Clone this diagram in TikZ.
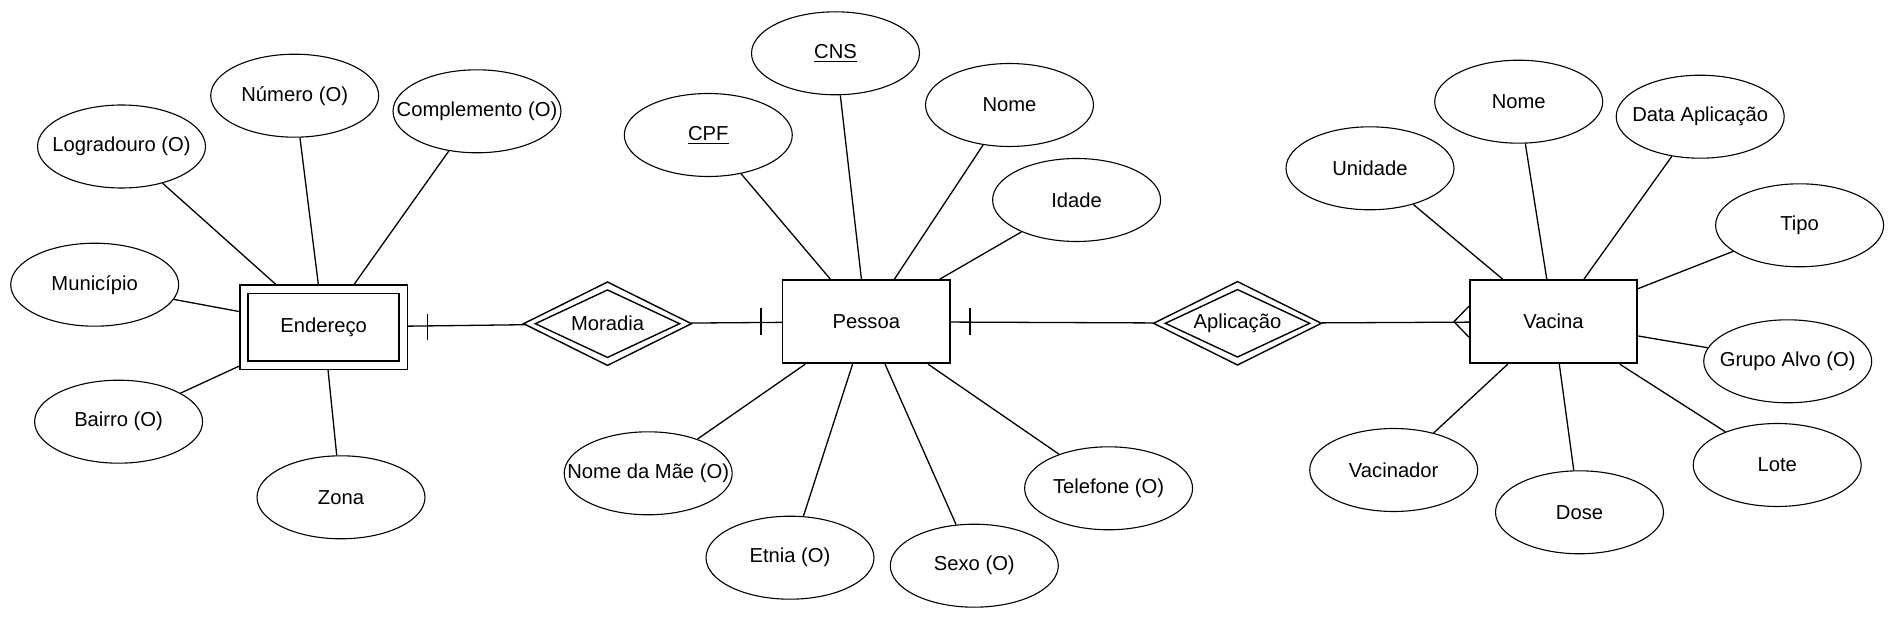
\documentclass[tikz,border=0pt]{standalone}
\usepackage{fontspec}
\setmainfont{Liberation Sans}
\usetikzlibrary{calc,shapes.geometric}

\tikzset{
  attr/.style={ellipse, draw, line width=0.63pt, minimum width=3.36cm,
    minimum height=1.66cm, inner xsep=-0.6cm, inner ysep=0pt},
  entity/.style={rectangle, draw, line width=0.97pt, minimum width=3.348cm,
    minimum height=1.666cm, inner sep=0pt},
  weakent/.style={entity, double, line width=0.85pt, double distance=0.133cm,
    minimum width=3.184cm, minimum height=1.52cm, outer sep=0.097cm},
  rel/.style={diamond, draw, line width=0.8pt, minimum width=3.368cm,
    minimum height=1.68cm, inner sep=0pt, aspect=2},
  link/.style={line width=0.74pt},
}

\begin{document}
\begin{tikzpicture}[x=0.02cm, y=-0.02cm, font=\fontsize{11.5}{13.8}\selectfont]
  \path[fill=white] (0,0) rectangle (1897,621);

  % entities and relationships
  \node[weakent] (endereco) at (323.7,327.2) {Endereço};
  \node[entity] (pessoa) at (866.3,321.7) {Pessoa};
  \node[entity] (vacina) at (1553.5,321.7) {Vacina};
  \node[rel] (moradia) at (607.5,323.7) {Moradia};
  \node[rel] (aplicacao) at (1237.5,323.3) {Aplicação};
  \foreach \rn in {moradia,aplicacao}
    \draw[line width=0.8pt] ($(\rn.center)!.85!(\rn.west)$) -- ($(\rn.center)!.79!(\rn.north)$)
      -- ($(\rn.center)!.85!(\rn.east)$) -- ($(\rn.center)!.79!(\rn.south)$) -- cycle;

  \draw[link] (endereco) -- (moradia);
  \draw[link] (moradia) -- (pessoa);
  \draw[link] (pessoa) -- (aplicacao);
  \draw[link] (aplicacao) -- (vacina);

  % cardinalities
  \draw[link] ($(endereco.east)+(19.6,-13)$) -- ($(endereco.east)+(19.6,13)$);
  \draw[link] ($(pessoa.west)+(-20.8,-13.5)$) -- ($(pessoa.west)+(-20.8,13.5)$);
  \draw[link] ($(pessoa.east)+(19.2,-13.5)$) -- ($(pessoa.east)+(19.2,13.5)$);
  \draw[link] ($(vacina.west)+(0,-15.5)$) -- ($(vacina.west)+(-15,0)$)
    -- ($(vacina.west)+(0,15.5)$);

  % attributes
  \foreach \n/\x/\y/\t/\e in {
      logradouro/121.5/146.5/{Logradouro (O)}/endereco,
      numero/294.7/95.7/{Número (O)}/endereco,
      complemento/477/111.3/{Complemento (O)}/endereco,
      municipio/94.7/284.7/{Município}/endereco,
      bairro/118.6/421.7/{Bairro (O)}/endereco,
      zona/341/497.3/{Zona}/endereco,
      cpf/708.3/135/{\underline{CPF}}/pessoa,
      cns/835.5/53.3/{\underline{CNS}}/pessoa,
      nome/1009.5/105/{Nome}/pessoa,
      idade/1076.6/200/{Idade}/pessoa,
      nomemae/648.2/473.3/{Nome da Mãe (O)}/pessoa,
      etnia/790/557.7/{Etnia (O)}/pessoa,
      sexo/974.3/565.7/{Sexo (O)}/pessoa,
      telefone/1108.6/488.3/{Telefone (O)}/pessoa,
      unidade/1370/168.3/{Unidade}/vacina,
      vnome/1518.7/101.7/{Nome}/vacina,
      dataaplic/1700.2/116.7/{Data Aplicação}/vacina,
      tipo/1799.6/225.3/{Tipo}/vacina,
      grupoalvo/1787.7/361.3/{Grupo Alvo (O)}/vacina,
      vacinador/1393.7/470/{Vacinador}/vacina,
      dose/1579.5/512.3/{Dose}/vacina,
      lote/1777.2/465/{Lote}/vacina} {
    \node[attr] (\n) at (\x,\y) {\t};
    \draw[link] (\n) -- (\e);
  }
\end{tikzpicture}
\end{document}
